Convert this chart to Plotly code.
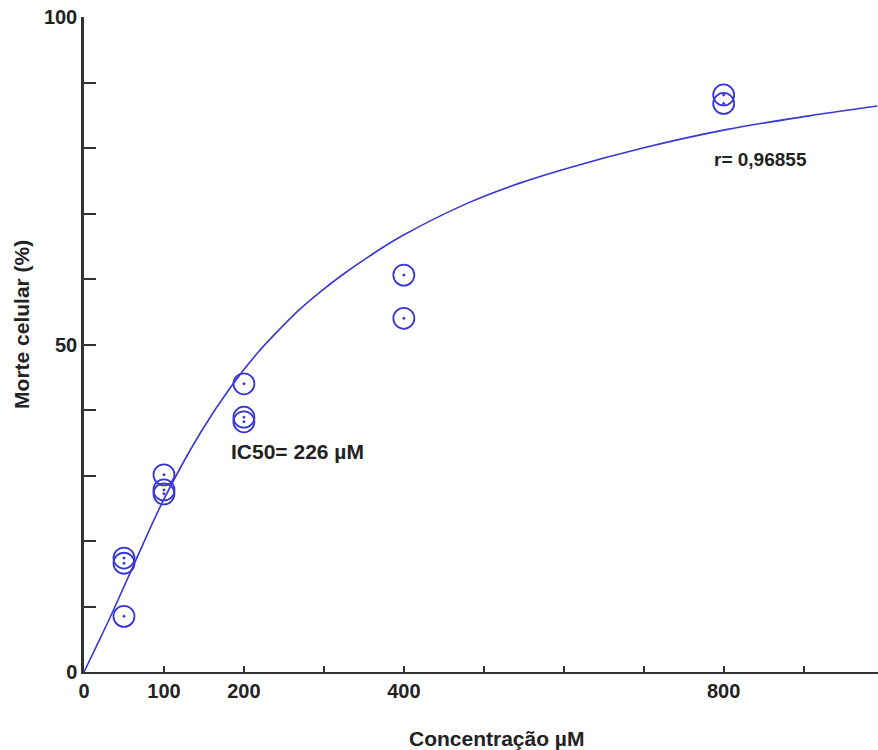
import plotly.graph_objects as go

# Measured cell death (%) at each concentration (µM)
conc = [50, 50, 50, 100, 100, 100, 200, 200, 200, 400, 400, 800, 800]
death = [17.4, 16.6, 8.5, 30.1, 27.8, 27.2, 44.0, 38.9, 38.2, 60.6, 54.0, 88.1, 86.8]

# Fitted dose-response curve
fit_x = [0, 15, 31, 58, 100, 146, 184, 217, 246, 270, 294, 325, 357, 398, 482, 544, 607, 699, 803, 907, 992]
fit_y = [0, 3.8, 7.9, 15.2, 26.4, 36.6, 43.6, 48.7, 52.5, 55.4, 57.9, 60.8, 63.5, 66.6, 71.7, 74.6, 77.0, 80.0, 82.8, 84.9, 86.4]

x_ticks = [0, 100, 200, 300, 400, 500, 600, 700, 800, 900]
x_labels = ["0", "100", "200", "", "400", "", "", "", "800", ""]
y_ticks = [0, 10, 20, 30, 40, 50, 60, 70, 80, 90, 100]
y_labels = ["0", "", "", "", "", "50", "", "", "", "", "100"]

blue = "rgb(55,55,215)"
axis_col = "#333333"
font_fam = "Liberation Sans, Arial, sans-serif"
tick_font = dict(family=font_fam, size=20, color="#222", weight="bold")

fig = go.Figure()
fig.add_trace(go.Scatter(
    x=fit_x, y=fit_y, mode="lines",
    line=dict(color=blue, width=1.6, shape="spline", smoothing=1.0),
    hoverinfo="skip", showlegend=False,
))
fig.add_trace(go.Scatter(
    x=conc, y=death, mode="markers",
    marker=dict(symbol="circle-open-dot", size=21, color=blue,
                line=dict(color=blue, width=1.8)),
    cliponaxis=False, showlegend=False,
))

fig.add_annotation(x=181, y=33.7, xref="x", yref="y", text="<b>IC50= 226 µM</b>",
                   showarrow=False, xanchor="left", yanchor="middle",
                   font=dict(family=font_fam, size=21, color="#222"))
fig.add_annotation(x=785, y=78.2, xref="x", yref="y", text="<b>r= 0,96855</b>",
                   showarrow=False, xanchor="left", yanchor="middle",
                   font=dict(family=font_fam, size=19, color="#222"))
fig.add_annotation(x=0.519, y=-0.1008, xref="paper", yref="paper",
                   text="<b>Concentração µM</b>", showarrow=False,
                   xanchor="center", yanchor="middle",
                   font=dict(family=font_fam, size=21, color="#222"))
fig.add_annotation(x=-0.078, y=0.53, xref="paper", yref="paper",
                   text="<b>Morte celular (%)</b>", showarrow=False, textangle=-90,
                   xanchor="center", yanchor="middle",
                   font=dict(family=font_fam, size=21, color="#222"))

fig.update_layout(
    width=878, height=750,
    margin=dict(l=84, r=0, t=17, b=78),
    paper_bgcolor="white", plot_bgcolor="white",
    font=dict(family=font_fam, size=20, color="#222"),
    xaxis=dict(range=[0, 993], tickvals=x_ticks, ticktext=x_labels,
               ticks="inside", ticklen=6, tickwidth=2, tickcolor=axis_col,
               showline=True, linecolor=axis_col, linewidth=2,
               showgrid=False, zeroline=False, tickfont=tick_font),
    yaxis=dict(range=[0, 100], tickvals=y_ticks, ticktext=y_labels,
               ticks="inside", ticklen=12, tickwidth=2, tickcolor=axis_col,
               showline=True, linecolor=axis_col, linewidth=2.5,
               showgrid=False, zeroline=False, tickfont=tick_font),
)

fig.write_html("out.html")
